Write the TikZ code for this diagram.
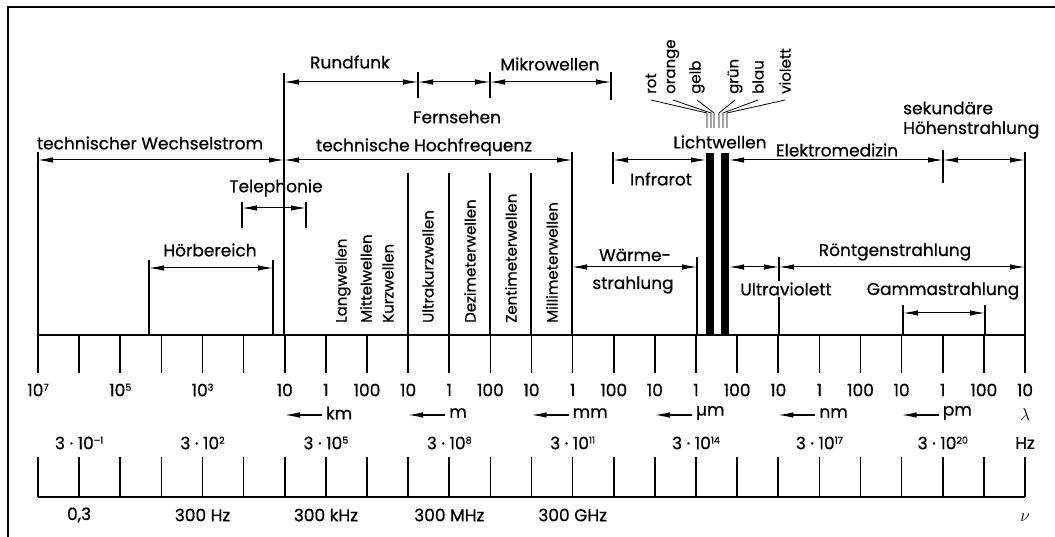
\documentclass[tikz,border=0pt]{standalone}
\usepackage{fontspec}
\setmainfont{Poppins}[FakeBold=0.6]
\usetikzlibrary{arrows.meta}
\newcommand\hoch[1]{\raisebox{0.6ex}{\fontsize{9.5}{9.5}\selectfont #1}}
\begin{document}
\begin{tikzpicture}[x=1pt,y=-1pt,
  lbl/.style={font=\fontsize{17}{17}\selectfont, inner sep=0pt},
  vlbl/.style={lbl, font=\fontsize{15}{15}\selectfont, rotate=90, anchor=west},
  tipa/.tip={Latex[length=15pt,width=5.5pt]},
  dimline/.style={tipa-tipa, line width=1pt},
  barline/.style={line width=1.4pt},
  axisline/.style={line width=1.7pt},
  unitarrow/.style={tipa-, line width=1.1pt},
  fanline/.style={line width=0.8pt}]
\useasboundingbox (0,0) rectangle (1055,537);
% frame
\draw[line width=2pt] (8,537) -- (8,7) -- (1055,7);

% scales
\foreach \i in {0,...,24} {
  \pgfmathsetmacro\xx{38+41.125*\i}
  \draw[axisline] (\xx,335) -- (\xx,373);
  \draw[axisline] (\xx,457) -- (\xx,497);
}
\draw[axisline] (38,335) coordinate (axL) -- (1025,335) coordinate (axR);
\draw[axisline] (38,497) coordinate (bxL) -- (1025,497) coordinate (bxR);

% wavelength numbers
\foreach \i/\t in {0/{10\hoch{7}},2/{10\hoch{5}},4/{10\hoch{3}},6/10,7/1,8/100,9/10,10/1,11/100,12/10,13/1,14/100,15/10,16/1,17/100,18/10,19/1,20/100,21/10,22/1,23/100,24/10} {
  \pgfmathsetmacro\xx{38+41.125*\i}
  \node[lbl] (wl\i) at (\xx,390) {\t};
}
% units
\foreach \i/\t in {6/km,9/m,12/mm,15/µm,18/nm,21/pm} {
  \pgfmathsetmacro\xx{38+41.125*\i}
  \coordinate (ua\i) at (\xx,415);
  \coordinate (ub\i) at (\xx+37,415);
  \draw[unitarrow] (ua\i) -- (ub\i);
  \node[lbl, anchor=west] (un\i) at (\xx+41,413) {\t};
}
\node[lbl] (lam) at (1025,414) {$\lambda$};
% frequency labels
\foreach \i/\t in {1/{3 · 10\hoch{–1}},4/{3 · 10\hoch{2}},7/{3 · 10\hoch{5}},10/{3 · 10\hoch{8}},13/{3 · 10\hoch{11}},16/{3 · 10\hoch{14}},19/{3 · 10\hoch{17}},22/{3 · 10\hoch{20}},24/Hz} {
  \pgfmathsetmacro\xx{38+41.125*\i}
  \node[lbl] (fq\i) at (\xx,443) {\t};
}
\foreach \i/\t in {1/{0,3},4/{300 Hz},7/{300 kHz},10/{300 MHz},13/{300 GHz}} {
  \pgfmathsetmacro\xx{38+41.125*\i}
  \node[lbl] (bf\i) at (\xx,515) {\t};
}
\node[lbl] (nu) at (1025,518) {$\nu$};

% ---- bars
\draw[barline] (38,152) coordinate (wsL) -- (38,335);
\draw[barline] (284,73) coordinate (rfL) -- (284,335);
\draw[barline] (418,72) -- (418,98);
\draw[barline] (490,72) -- (490,98);
\draw[barline] (611,72) -- (611,100);
\draw[barline] (572,152) -- (572,335);
\draw[barline] (242,202) -- (242,228);
\draw[barline] (306,202) -- (306,228);
\draw[barline] (149,260) -- (149,335);
\draw[barline] (273,260) -- (273,335);
\foreach \xx in {408,449,490,531} \draw[barline] (\xx,173) -- (\xx,335);
\draw[barline] (697,257) -- (697,335);
\draw[barline] (613,152) -- (613,184);
\draw[barline] (943,150) -- (943,183);
\draw[barline] (1025,152) -- (1025,335);
\draw[barline] (779,257) -- (779,335);
\draw[barline] (903,305) -- (903,335);
\draw[barline] (985,305) -- (985,335);
\fill (706,153) rectangle (714,335);
\fill (721,153) rectangle (729,335);

% ---- dimension arrows
\draw[dimline] (284,82) coordinate (a1) -- (418,82) coordinate (a2);
\draw[dimline] (418,82) -- (490,82) coordinate (a3);
\draw[dimline] (490,82) -- (611,82) coordinate (a4);
\draw[dimline] (38,160) coordinate (b1) -- (284,160) coordinate (b2);
\draw[dimline] (284,160) -- (572,160) coordinate (b3);
\draw[dimline] (242,208) coordinate (t1) -- (306,208) coordinate (t2);
\draw[dimline] (149,268) coordinate (h1) -- (273,268) coordinate (h2);
\draw[dimline] (572,267) coordinate (w1) -- (697,267) coordinate (w2);
\draw[dimline] (613,160) coordinate (i1) -- (706,160) coordinate (i2);
\draw[dimline] (729,160) coordinate (e1) -- (943,160) coordinate (e2);
\draw[dimline] (943,160) -- (1025,160) coordinate (e3);
\draw[dimline] (729,267) coordinate (u1) -- (779,267) coordinate (u2);
\draw[dimline] (779,267) -- (1025,267) coordinate (u3);
\draw[dimline] (903,313) coordinate (g1) -- (985,313) coordinate (g2);

% ---- texts
\node[lbl] (rundfunk) at (350,62) {Rundfunk};
\node[lbl] (mikro) at (550,64) {Mikrowellen};
\node[lbl] (fern) at (457,117) {Fernsehen};
\node[lbl] (hochf) at (424,147) {technische Hochfrequenz};
\node[lbl] (wechsel) at (150,143) {technischer Wechselstrom};
\node[lbl] (teleph) at (276,188) {Telephonie};
\node[lbl] (hoer) at (210,250) {Hörbereich};
\node[lbl] (waerme) at (635,255) {Wärme-};
\node[lbl] (strahl) at (633,285) {strahlung};
\node[lbl] (infra) at (661,179) {Infrarot};
\node[lbl] (licht) at (720,142) {Lichtwellen};
\node[lbl] (elektro) at (837,150) {Elektromedizin};
\node[lbl, anchor=west] (sek) at (903,108) {sekundäre};
\node[lbl, anchor=west] (hoehen) at (903,130) {Höhenstrahlung};
\node[lbl] (roent) at (895,252) {Röntgenstrahlung};
\node[lbl, fill=white, inner sep=1pt] (ultra) at (786,289) {Ultraviolett};
\node[lbl] (gamma) at (943,291) {Gammastrahlung};
\node[vlbl] (lang) at (343,323) {Langwellen};
\node[vlbl] (mittel) at (366,323) {Mittelwellen};
\node[vlbl] (kurz) at (388,323) {Kurzwellen};
\node[vlbl] (ukw) at (428,323) {Ultrakurzwellen};
\node[vlbl] (dezi) at (470,323) {Dezimeterwellen};
\node[vlbl] (zenti) at (511,323) {Zentimeterwellen};
\node[vlbl] (milli) at (552,323) {Millimeterwellen};

% ---- colour fan
\foreach \n/\lx/\tx in {rot/651/707,orange/673/711,gelb/697/714,grün/735/719,blau/758/723,violett/785/727} {
  \node[vlbl] (c\n) at (\lx,94) {\n};
  \draw[fanline] (\lx,100) -- (\tx,113) -- (\tx,128);
}
\end{tikzpicture}
\end{document}
